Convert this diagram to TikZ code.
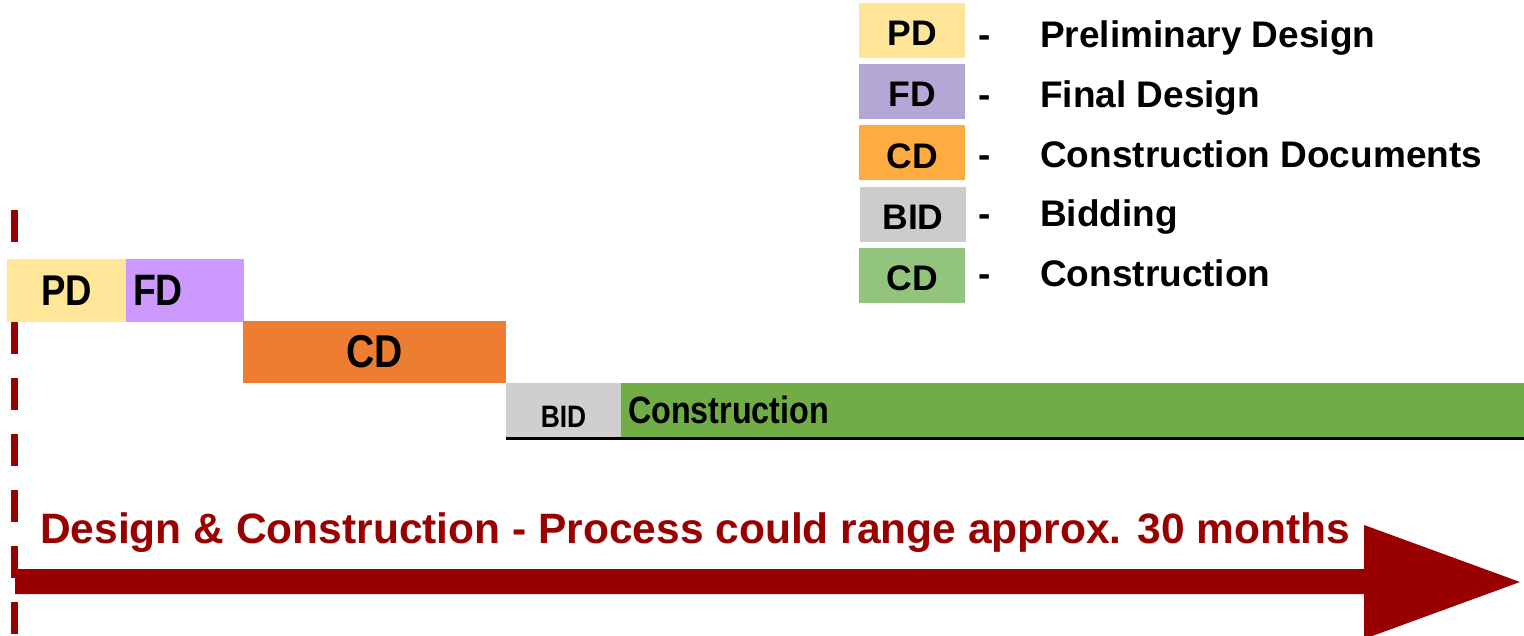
\documentclass[tikz,border=0pt]{standalone}
\usepackage{fontspec}
\setmainfont{Liberation Sans}
\newfontfamily\narrowfont[FakeStretch=0.85]{Liberation Sans}
\definecolor{pdcol}{HTML}{FFE699}
\definecolor{fdcol}{HTML}{CC99FF}
\definecolor{cdcol}{HTML}{ED7D31}
\definecolor{bidcol}{HTML}{D0CECE}
\definecolor{concol}{HTML}{70AD47}
\definecolor{keypd}{HTML}{FFE599}
\definecolor{keyfd}{HTML}{B4A7D6}
\definecolor{keycd}{HTML}{FFAB40}
\definecolor{keybid}{HTML}{CCCCCC}
\definecolor{keycon}{HTML}{93C47D}
\definecolor{darkred}{HTML}{990000}
\begin{document}
\begin{tikzpicture}[x=1pt,y=-1pt,
bar/.style ={rectangle, inner sep=0pt, text centered,
  font=\narrowfont\bfseries\fontsize{#1}{#1}\selectfont
},
keybox/.style ={rectangle, inner sep=0pt,
  minimum width=106pt, minimum height=55pt, text height=31pt,
  font=\fontsize{35.5}{35.5}\selectfont\bfseries
},
keytext/.style ={anchor=base west, inner sep=0pt,
  font=\fontsize{37}{37}\selectfont\bfseries
},
keydash/.style ={anchor=base, inner sep=0pt,
  font=\fontsize{37}{37}\selectfont\bfseries
}]
\useasboundingbox (0,0) rectangle (1524,636);

% start line and time arrow
\draw[darkred, line width=6.5pt, dash pattern=on 32pt off 24pt] (14.5,210) -- (14.5,636);
\fill[darkred] (15,569) -- (1364,569) -- (1364,525) -- (1520,582)
  -- (1364,639) -- (1364,594) -- (15,594) -- cycle;
\node (span) at (40,543) [anchor=base west, inner sep=0pt, text=darkred,
  font=\fontsize{42.5}{42.5}\selectfont\bfseries]
  {Design \& Construction - Process could range approx. 30 months};

% phases
\node (pd) at (66.5,290.5) [bar=43, fill=pdcol, minimum width=119pt, minimum height=63pt] {PD};
\node (fd) at (185,290.5) [bar=44, fill=fdcol, minimum width=118pt, minimum height=63pt,
  text width=104pt, align=left] {FD};
\node (cd) at (374.5,352) [bar=46, fill=cdcol, minimum width=263pt, minimum height=62pt] {CD};
\node (bid) at (563.5,410) [bar=31, fill=bidcol, minimum width=115pt, minimum height=54pt,
  text height=34pt] {BID};
\node (con) at (1072.5,410) [bar=38, fill=concol, minimum width=903pt, minimum height=54pt,
  text width=889pt, align=left] {Construction};
\draw[line width=3pt] ([yshift=-1.5pt]bid.south west) -- ([yshift=-1.5pt]con.south east);

% legend
\node (kpd) at (912,30.5) [keybox, fill=keypd] {PD};
\node (kfd) at (912,91.5) [keybox, fill=keyfd] {FD};
\node (kcd) at (912,153) [keybox, fill=keycd] {CD};
\node (kbid) at (913,214.5) [keybox, fill=keybid] {BID};
\node (kcon) at (912,275.5) [keybox, fill=keycon] {CD};

\node (dpd) at (985,48) [keydash] {-};
\node (dfd) at (985,108) [keydash] {-};
\node (dcd) at (985,168) [keydash] {-};
\node (dbid) at (985,227) [keydash] {-};
\node (dcon) at (985,287) [keydash] {-};

\node (tpd) at (1040,48) [keytext] {Preliminary Design};
\node (tfd) at (1040,108) [keytext] {Final Design};
\node (tcd) at (1040,168) [keytext] {Construction Documents};
\node (tbid) at (1040,227) [keytext] {Bidding};
\node (tcon) at (1040,287) [keytext] {Construction};

\end{tikzpicture}
\end{document}
